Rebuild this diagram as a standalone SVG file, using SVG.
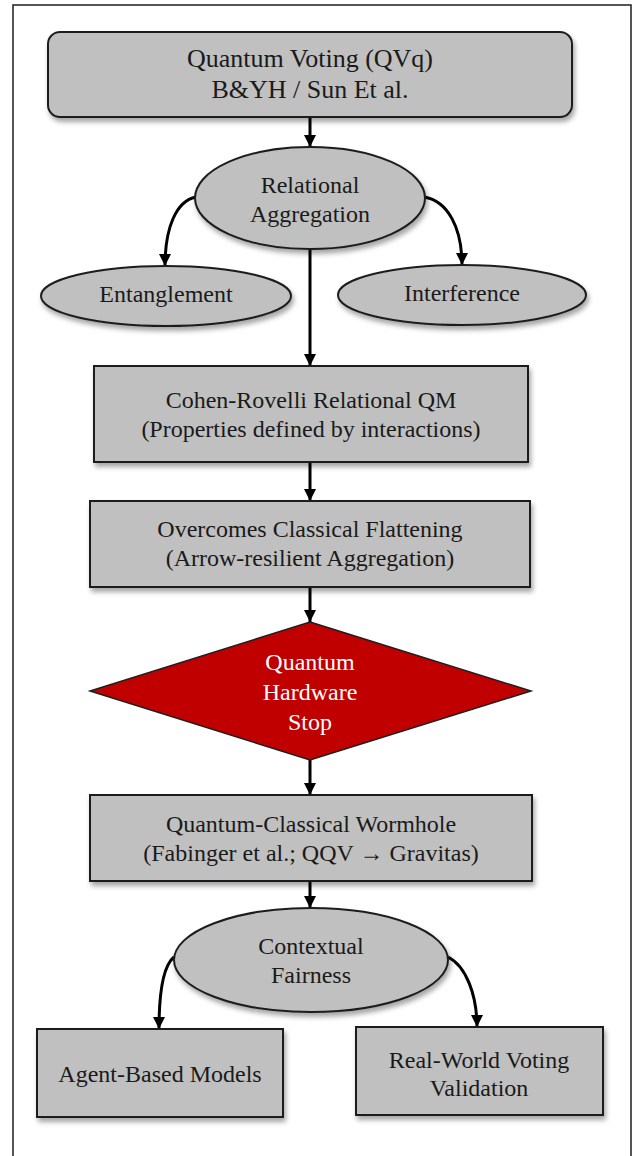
<svg xmlns="http://www.w3.org/2000/svg" width="635" height="1156" viewBox="0 0 635 1156">
<defs>
<style>
.n{fill:#c0c0c0;stroke:#1e1e1e;stroke-width:2;filter:url(#sh)}
.t{font-family:"Liberation Serif","Times New Roman",serif;font-size:24px;fill:#1a1a1a;text-anchor:middle}
.tt{font-size:26px}
.w{fill:#ffffff}
.c{fill:none;stroke:#000;stroke-width:3;marker-end:url(#ah)}
</style>
<filter id="sh" x="-10%" y="-10%" width="130%" height="140%">
<feDropShadow dx="2" dy="4" stdDeviation="2.5" flood-color="#000" flood-opacity="0.35"/>
</filter>
<marker id="ah" markerUnits="userSpaceOnUse" markerWidth="14" markerHeight="14" refX="12" refY="6" orient="auto">
<path d="M0,0 L12,6 L0,12 Z" fill="#000"/>
</marker>
</defs>
<rect width="635" height="1156" fill="#fff"/>
<rect x="13" y="5" width="618" height="1170" fill="none" stroke="#1e1e1e" stroke-width="1.5"/>

<g id="connectors">
<path class="c" d="M310,117 L310,147"/>
<path class="c" d="M196,197 C176,201 165,228 165,266"/>
<path class="c" d="M424,197 C448,201 462,228 462,265"/>
<path class="c" d="M310,250 L310,366"/>
<path class="c" d="M310,462 L310,501"/>
<path class="c" d="M310,587 L310,622"/>
<path class="c" d="M310,760 L310,795"/>
<path class="c" d="M310,881 L310,908"/>
<path class="c" d="M174,957 C163,966 159,995 159,1029"/>
<path class="c" d="M448,957 C466,966 477,995 477,1027"/>
</g>

<g id="n-qv">
<rect class="n" x="48" y="32" width="524" height="85" rx="12"/>
<text class="t tt" x="310" y="67">Quantum Voting (QVq)</text>
<text class="t tt" x="310" y="98">B&amp;YH / Sun Et al.</text>
</g>

<g id="n-relational">
<ellipse class="n" cx="310" cy="198" rx="115" ry="51"/>
<text class="t" x="310" y="193">Relational</text>
<text class="t" x="310" y="222">Aggregation</text>
</g>

<g id="n-entanglement">
<ellipse class="n" cx="166" cy="296" rx="125" ry="30"/>
<text class="t" x="166" y="302">Entanglement</text>
</g>

<g id="n-interference">
<ellipse class="n" cx="462" cy="295" rx="124" ry="30"/>
<text class="t" x="462" y="301">Interference</text>
</g>

<g id="n-cohen">
<rect class="n" x="94" y="366" width="434" height="96"/>
<text class="t" x="311" y="408">Cohen-Rovelli Relational QM</text>
<text class="t" x="311" y="437">(Properties defined by interactions)</text>
</g>

<g id="n-overcomes">
<rect class="n" x="90" y="501" width="440" height="86"/>
<text class="t" x="310" y="537">Overcomes Classical Flattening</text>
<text class="t" x="310" y="566">(Arrow-resilient Aggregation)</text>
</g>

<g id="n-stop">
<polygon points="310,622 531,691 310,760 90,691" fill="#c00000" stroke="#1e1e1e" stroke-width="1.5"/>
<text class="t w" x="310" y="670">Quantum</text>
<text class="t w" x="310" y="700">Hardware</text>
<text class="t w" x="310" y="730">Stop</text>
</g>

<g id="n-wormhole">
<rect class="n" x="90" y="795" width="442" height="86"/>
<text class="t" x="311" y="832">Quantum-Classical Wormhole</text>
<text class="t" x="311" y="861">(Fabinger et al.; QQV → Gravitas)</text>
</g>

<g id="n-contextual">
<ellipse class="n" cx="311" cy="960" rx="137" ry="52"/>
<text class="t" x="311" y="954">Contextual</text>
<text class="t" x="311" y="983">Fairness</text>
</g>

<g id="n-agent">
<rect class="n" x="37" y="1029" width="246" height="88"/>
<text class="t" x="160" y="1082">Agent-Based Models</text>
</g>

<g id="n-realworld">
<rect class="n" x="356" y="1027" width="247" height="88"/>
<text class="t" x="479" y="1068">Real-World Voting</text>
<text class="t" x="479" y="1096">Validation</text>
</g>
</svg>
